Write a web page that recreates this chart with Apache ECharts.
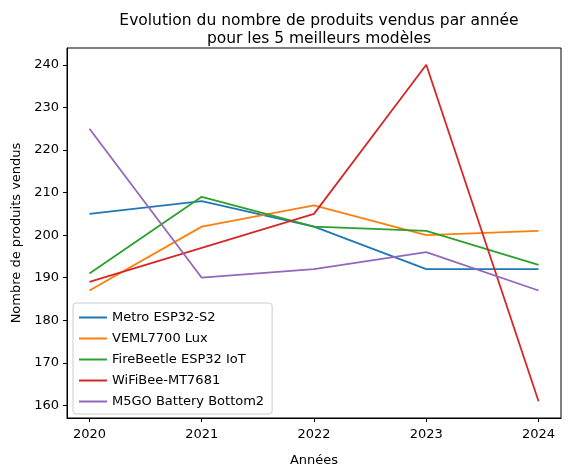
<!DOCTYPE html>
<html><head><meta charset="utf-8">
<script src="https://cdn.jsdelivr.net/npm/echarts@6/dist/echarts.min.js"></script>
<style>body{margin:0}#c{width:571px;height:472px}</style></head>
<body><div id="c"></div>
<script>
const years = [2020, 2021, 2022, 2023, 2024];
const names = ['Metro ESP32-S2', 'VEML7700 Lux', 'FireBeetle ESP32 IoT', 'WiFiBee-MT7681', 'M5GO Battery Bottom2'];
const metro = [205, 208, 202, 192, 192];
const veml = [187, 202, 207, 200, 201];
const fire = [191, 209, 202, 201, 193];
const wifi = [189, 197, 205, 240, 161];
const m5go = [225, 190, 192, 196, 187];
const yTicks = [160, 170, 180, 190, 200, 210, 220, 230, 240];
const colors = ['#1f77b4', '#ff7f0e', '#2ca02c', '#d62728', '#9467bd'];

const allData = [metro, veml, fire, wifi, m5go];
const font = 'DejaVu Sans';
echarts.init(document.getElementById('c')).setOption({
    color: colors,
    textStyle: {fontFamily: font},
    title: {
        text: 'Evolution du nombre de produits vendus par année\npour les 5 meilleurs modèles',
        left: 314, top: 7, textAlign: 'center',
        textStyle: {fontSize: 15.5, fontWeight: 'normal', color: '#000', lineHeight: 18, fontFamily: font}
    },
    grid: {left: 67, right: 10, top: 48, bottom: 53, show: true, borderColor: '#000', borderWidth: 1},
    legend: {
        orient: 'vertical', left: 73, top: 303,
        data: names,
        icon: 'rect', itemWidth: 28, itemHeight: 2, itemGap: 8,
        padding: [8, 8, 6, 6],
        borderColor: '#ccc', borderWidth: 1, borderRadius: 3, backgroundColor: 'rgba(255,255,255,0.8)',
        textStyle: {fontSize: 13, color: '#000', fontFamily: font}
    },
    xAxis: {
        type: 'value', min: 2019.8, max: 2024.2,
        name: 'Années', nameLocation: 'middle', nameGap: 36,
        nameTextStyle: {fontSize: 13, color: '#000'},
        axisLine: {lineStyle: {color: '#000'}},
        axisTick: {customValues: years, length: 4, lineStyle: {color: '#000'}},
        axisLabel: {customValues: years, color: '#000', fontSize: 13, margin: 10, formatter: v => String(v)},
        splitLine: {show: false}
    },
    yAxis: {
        type: 'value', min: 157.05, max: 243.95,
        name: 'Nombre de produits vendus', nameLocation: 'middle', nameGap: 44,
        nameTextStyle: {fontSize: 13, color: '#000'},
        axisLine: {show: true, lineStyle: {color: '#000'}},
        axisTick: {show: true, customValues: yTicks, length: 4, lineStyle: {color: '#000'}},
        axisLabel: {customValues: yTicks, color: '#000', fontSize: 13, margin: 8},
        splitLine: {show: false}
    },
    series: names.map((n, i) => ({
        name: n, type: 'line', showSymbol: false, symbol: 'none',
        lineStyle: {width: 1.8},
        data: years.map((y, j) => [y, allData[i][j]])
    }))
});
</script></body></html>
